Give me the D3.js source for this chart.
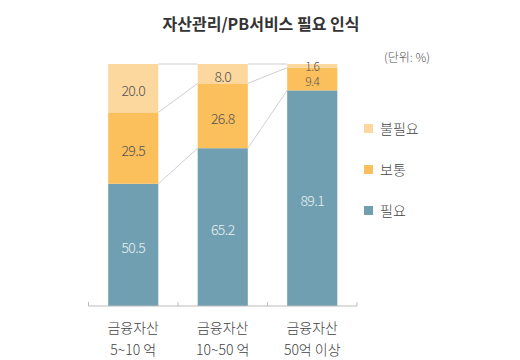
<!DOCTYPE html>
<html>
<head>
<meta charset="utf-8">
<script src="https://cdn.jsdelivr.net/npm/d3@7"></script>
<style>
  body { margin: 0; background: #fff; }
  svg { display: block; font-family: 'Noto Sans CJK KR', 'Noto Sans', sans-serif; }
</style>
</head>
<body>
<div id="chart"></div>
<script>
const categories = ['금융자산|5~10 억', '금융자산|10~50 억', '금융자산|50억 이상'];
const seriesNames = ['필요', '보통', '불필요'];
const needed = [50.5, 65.2, 89.1];
const neutral = [29.5, 26.8, 9.4];
const notNeeded = [20.0, 8.0, 1.6];
const legendOrder = ['불필요', '보통', '필요'];

const colors = { '필요': '#6f9fb1', '보통': '#fbbf5c', '불필요': '#fdd89e' };
const textColors = { '필요': '#e8f0f3', '보통': '#555', '불필요': '#555' };

const width = 520, height = 360;
const svg = d3.select('#chart').append('svg').attr('width', width).attr('height', height);

const x = d3.scaleBand().domain(categories).range([88.5, 357]).paddingInner(0.44).paddingOuter(0.22);
const y = d3.scaleLinear().domain([0, 100]).range([306, 64]);

const rows = categories.map((c, i) => ({ cat: c, '필요': needed[i], '보통': neutral[i], '불필요': notNeeded[i] }));
const stacked = d3.stack().keys(seriesNames)(rows);

// title + unit
svg.append('text').attr('x', 261).attr('y', 30).attr('text-anchor', 'middle')
  .attr('font-size', 16).attr('font-weight', 700).attr('fill', '#333')
  .text('자산관리/PB서비스  필요  인식');
svg.append('text').attr('x', 407).attr('y', 62).attr('text-anchor', 'middle')
  .attr('font-size', 12).attr('font-weight', 300).attr('fill', '#555').text('(단위: %)');

// connector lines between bars
const links = svg.append('g');
for (let i = 0; i < categories.length - 1; i++) {
  stacked.forEach((layer) => {
    links.append('line')
      .attr('x1', x(categories[i]) + x.bandwidth()).attr('y1', y(Math.min(100, layer[i][1])))
      .attr('x2', x(categories[i + 1])).attr('y2', y(Math.min(100, layer[i + 1][1])))
      .attr('stroke', '#cfcfcf').attr('stroke-width', 1);
  });
}

// bars
const bars = svg.append('g');
stacked.forEach((layer) => {
  bars.selectAll(null).data(layer).join('rect')
    .attr('x', (d) => x(d.data.cat))
    .attr('y', (d) => y(Math.min(100, d[1])))
    .attr('width', x.bandwidth())
    .attr('height', (d) => y(d[0]) - y(Math.min(100, d[1])))
    .attr('fill', colors[layer.key]);
});

// value labels: the tiny top slice and the one under it are squeezed together, as in the original
stacked.forEach((layer) => {
  const squeezed = (d) => d.data['불필요'] < 3 && layer.key !== '필요';
  bars.selectAll(null).data(layer).join('text')
    .attr('x', (d) => x(d.data.cat) + x.bandwidth() / 2)
    .attr('y', (d) => {
      if (squeezed(d) && layer.key === '불필요') return y(100) + 7;
      if (squeezed(d)) return y(d[0]) - 4;
      return (y(d[0]) + y(Math.min(100, d[1]))) / 2 + 8;
    })
    .attr('text-anchor', 'middle')
    .attr('font-size', (d) => (squeezed(d) ? 12 : 14))
    .attr('font-weight', 300)
    .attr('fill', textColors[layer.key])
    .attr('letter-spacing', -0.6)
    .text((d) => (d[1] - d[0]).toFixed(1));
});

// baseline axis
const axis = svg.append('g').attr('transform', 'translate(0,306)');
axis.append('line').attr('x1', 88.5).attr('x2', 357).attr('stroke', '#bbb');
const edges = categories.map((c) => x(c) - x.step() * 0.22).concat([357]);
axis.selectAll('.tk').data(edges).join('line').attr('class', 'tk')
  .attr('x1', (d) => d).attr('x2', (d) => d).attr('y1', 0).attr('y2', -4).attr('stroke', '#bbb');

// category labels
categories.forEach((c) => {
  const lines = c.split('|');
  lines.forEach((t, j) => {
    svg.append('text')
      .attr('x', x(c) + x.bandwidth() / 2).attr('y', 333 + j * 22)
      .attr('text-anchor', 'middle').attr('font-size', 14).attr('font-weight', 300).attr('fill', '#444')
      .text(t);
  });
});

// legend
const legend = svg.append('g');
legendOrder.forEach((k, i) => {
  const ly = 129 + i * 41;
  legend.append('rect').attr('x', 364).attr('y', ly - 5).attr('width', 9).attr('height', 9).attr('fill', colors[k]);
  legend.append('text').attr('x', 380).attr('y', ly + 5).attr('font-size', 14).attr('font-weight', 300).attr('fill', '#444').text(k);
});
</script>
</body>
</html>
